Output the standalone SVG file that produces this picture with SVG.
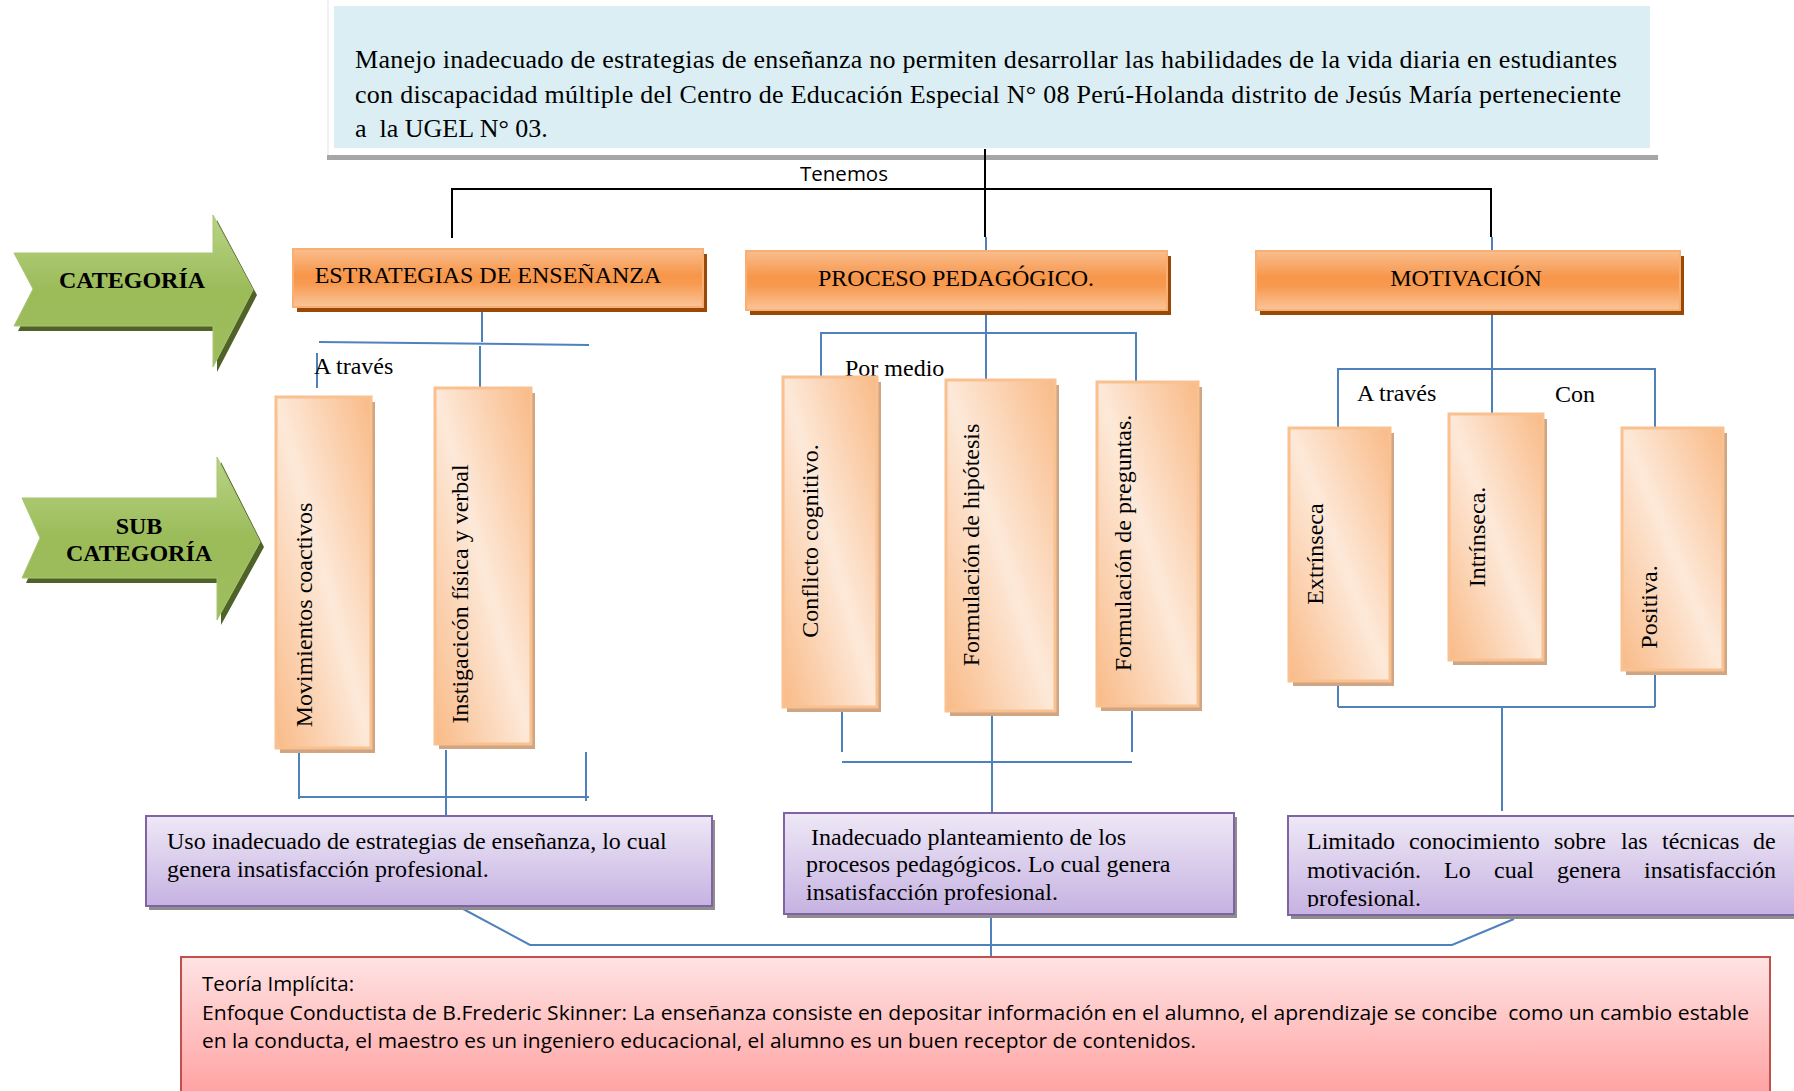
<svg xmlns="http://www.w3.org/2000/svg" width="1794" height="1091" viewBox="0 0 1794 1091">
<style>
.serif{font-family:"Liberation Serif","Times New Roman",serif;font-size:24px;fill:#000}
.big{font-size:26px}
.sans{font-family:"Open Sans","Liberation Sans",sans-serif;font-size:20.5px;fill:#000}
.bold{font-weight:bold}
.blue{stroke:#4F81BD;stroke-width:2;fill:none}
.black{stroke:#000;stroke-width:2;fill:none}
.cat{fill:url(#gCat);stroke:#F9AE72;stroke-width:2}
.catsh{fill:#984807}
.sub{fill:url(#gSub);stroke:#F9C090;stroke-width:3}
.subsh{fill:#CFA583}
.pur{fill:url(#gPur);stroke:#8064A2;stroke-width:2}
.pursh{fill:#8E8E8E}
.arr{fill:url(#gGreen);stroke:#A9C673;stroke-width:1}
.arrsh{fill:#4F6228}
</style>
<defs>
<linearGradient id="gCat" x1="0" y1="0" x2="0" y2="1">
<stop offset="0" stop-color="#F9BE8E"/>
<stop offset="0.45" stop-color="#F7964A"/>
<stop offset="0.6" stop-color="#F79A50"/>
<stop offset="1" stop-color="#FAC59A"/>
</linearGradient>
<linearGradient id="gSub" x1="1" y1="0" x2="0" y2="1">
<stop offset="0" stop-color="#F9BA87"/>
<stop offset="0.5" stop-color="#FDE9D9"/>
<stop offset="1" stop-color="#F9BA87"/>
</linearGradient>
<linearGradient id="gPur" x1="0" y1="0" x2="0" y2="1">
<stop offset="0" stop-color="#EEE8F6"/>
<stop offset="1" stop-color="#C6B2E2"/>
</linearGradient>
<linearGradient id="gRed" x1="0" y1="0" x2="0" y2="1">
<stop offset="0" stop-color="#FFE3E3"/>
<stop offset="1" stop-color="#FF9C9C"/>
</linearGradient>
<linearGradient id="gGreen" x1="0" y1="0" x2="0" y2="1">
<stop offset="0" stop-color="#B9D485"/>
<stop offset="0.5" stop-color="#9BBB59"/>
<stop offset="1" stop-color="#9FBE5F"/>
</linearGradient>
<clipPath id="clipP3"><rect x="1288" y="816" width="520" height="91"/></clipPath>
</defs>

<g id="problema">
<line x1="328" y1="0" x2="328" y2="155" stroke="#E3E3E3" stroke-width="1"/>
<rect x="327" y="155" width="1331" height="5" fill="#A6A6A6"/>
<rect x="334" y="6" width="1316" height="142" fill="#DAEEF3"/>
<text class="serif big" x="355" y="68" textLength="1262" lengthAdjust="spacing">Manejo inadecuado de estrategias de enseñanza no permiten desarrollar las habilidades de la vida diaria en estudiantes</text>
<text class="serif big" x="355" y="103" textLength="1266" lengthAdjust="spacing">con discapacidad múltiple del Centro de Educación Especial N° 08 Perú-Holanda distrito de Jesús María perteneciente</text>
<text class="serif big" x="355" y="137" xml:space="preserve">a  la UGEL N° 03.</text>
</g>

<g id="connectors">
<path class="black" d="M985,149 V237 M452,189 H1491 M452,188 V238 M1491,188 V237"/>
<path class="blue" d="M986,237 V251 M1492,237 V251"/>
<path class="blue" d="M482,307 V342 M319,342 L589,345 M480,346 V388 M317,353 V388"/>
<path class="blue" d="M299,752 V799 M299,797 H589 M446,750 V816 M586,752 V801"/>
<path class="blue" d="M986,311 V380 M821,333 H1136 M821,332 V382 M1136,332 V388"/>
<path class="blue" d="M842,705 V752 M1132,705 V752 M842,762 H1132 M992,712 V813"/>
<path class="blue" d="M1492,311 V414 M1338,369 H1655 M1338,368 V428 M1655,368 V427"/>
<path class="blue" d="M1338,682 V707 M1655,671 V707 M1338,707 H1655 M1502,707 V811"/>
<path class="blue" d="M452,903 L530,945 L1452,945 L1514,919 M991,914 V957"/>
</g>

<g id="tenemos"><text class="sans" x="800" y="181">Tenemos</text></g>
<g id="lbl-atraves1"><text class="serif" x="314" y="374">A través</text></g>
<g id="lbl-pormedio"><text class="serif" x="845" y="376">Por medio</text></g>
<g id="lbl-atraves2"><text class="serif" x="1357" y="401">A través</text></g>
<g id="lbl-con"><text class="serif" x="1555" y="402">Con</text></g>

<g id="arrow-categoria">
<polygon class="arrsh" points="18,258 217,258 217,220 257,295 217,372 217,331 18,331 37,294"/>
<polygon class="arr" points="14,253 213,253 213,215 253,290 213,367 213,326 14,326 33,289"/>
<text class="serif bold" x="132" y="288" text-anchor="middle">CATEGORÍA</text>
</g>

<g id="arrow-subcategoria">
<polygon class="arrsh" points="26,503 221,503 221,462 264,547 221,625 221,583 26,583 44,543"/>
<polygon class="arr" points="22,498 217,498 217,457 260,542 217,620 217,578 22,578 40,538"/>
<text class="serif bold" x="139" y="534" text-anchor="middle">SUB</text>
<text class="serif bold" x="139" y="561" text-anchor="middle">CATEGORÍA</text>
</g>

<g id="cat-estrategias">
<rect class="catsh" x="297" y="254" width="410" height="58"/>
<rect class="cat" x="293" y="249" width="410" height="58"/>
<text class="serif" x="488" y="283" text-anchor="middle">ESTRATEGIAS DE ENSEÑANZA</text>
</g>
<g id="cat-proceso">
<rect class="catsh" x="750" y="256" width="421" height="59"/>
<rect class="cat" x="746" y="251" width="421" height="59"/>
<text class="serif" x="956" y="286" text-anchor="middle">PROCESO PEDAGÓGICO.</text>
</g>
<g id="cat-motivacion">
<rect class="catsh" x="1260" y="256" width="424" height="59"/>
<rect class="cat" x="1256" y="251" width="424" height="59"/>
<text class="serif" x="1466" y="286" text-anchor="middle">MOTIVACIÓN</text>
</g>

<g id="sub-movimientos">
<rect class="subsh" x="280" y="402" width="95" height="351"/>
<rect class="sub" x="276" y="397" width="95" height="351"/>
<text class="serif" text-anchor="middle" transform="translate(312,615) rotate(-90)">Movimientos coactivos</text>
</g>
<g id="sub-instigacion">
<rect class="subsh" x="439" y="393" width="96" height="356"/>
<rect class="sub" x="435" y="388" width="96" height="356"/>
<text class="serif" text-anchor="middle" transform="translate(468,594) rotate(-90)">Instigacicón física y verbal</text>
</g>
<g id="sub-conflicto">
<rect class="subsh" x="787" y="382" width="94" height="330"/>
<rect class="sub" x="783" y="377" width="94" height="330"/>
<text class="serif" text-anchor="middle" transform="translate(818,541) rotate(-90)">Conflicto cognitivo.</text>
</g>
<g id="sub-hipotesis">
<rect class="subsh" x="950" y="385" width="109" height="331"/>
<rect class="sub" x="946" y="380" width="109" height="331"/>
<text class="serif" text-anchor="middle" transform="translate(979,545) rotate(-90)">Formulación de hipótesis</text>
</g>
<g id="sub-preguntas">
<rect class="subsh" x="1101" y="387" width="101" height="324"/>
<rect class="sub" x="1097" y="382" width="101" height="324"/>
<text class="serif" text-anchor="middle" transform="translate(1131,543) rotate(-90)">Formulación de preguntas.</text>
</g>
<g id="sub-extrinseca">
<rect class="subsh" x="1293" y="433" width="101" height="253"/>
<rect class="sub" x="1289" y="428" width="101" height="253"/>
<text class="serif" text-anchor="middle" transform="translate(1323,554) rotate(-90)">Extrínseca</text>
</g>
<g id="sub-intrinseca">
<rect class="subsh" x="1453" y="419" width="94" height="246"/>
<rect class="sub" x="1449" y="414" width="94" height="246"/>
<text class="serif" text-anchor="middle" transform="translate(1485,537) rotate(-90)">Intrínseca.</text>
</g>
<g id="sub-positiva">
<rect class="subsh" x="1626" y="433" width="101" height="242"/>
<rect class="sub" x="1622" y="428" width="101" height="242"/>
<text class="serif" text-anchor="middle" transform="translate(1657,607) rotate(-90)">Positiva.</text>
</g>

<g id="res-estrategias">
<rect class="pursh" x="149" y="820" width="566" height="90"/>
<rect class="pur" x="146" y="816" width="566" height="90"/>
<text class="serif" x="167" y="849">Uso inadecuado de estrategias de enseñanza, lo cual</text>
<text class="serif" x="167" y="877">genera insatisfacción profesional.</text>
</g>
<g id="res-proceso">
<rect class="pursh" x="787" y="817" width="450" height="101"/>
<rect class="pur" x="784" y="813" width="450" height="101"/>
<text class="serif" x="811" y="845">Inadecuado planteamiento de los</text>
<text class="serif" x="806" y="872">procesos pedagógicos. Lo cual genera</text>
<text class="serif" x="806" y="900">insatisfacción profesional.</text>
</g>
<g id="res-motivacion">
<rect class="pursh" x="1291" y="820" width="520" height="99"/>
<rect class="pur" x="1288" y="816" width="520" height="99"/>
<text class="serif" y="849"><tspan x="1307">Limitado</tspan><tspan x="1409">conocimiento</tspan><tspan x="1554">sobre</tspan><tspan x="1621">las</tspan><tspan x="1662">técnicas</tspan><tspan x="1753">de</tspan></text>
<text class="serif" y="878"><tspan x="1307">motivación.</tspan><tspan x="1444">Lo</tspan><tspan x="1494">cual</tspan><tspan x="1557">genera</tspan><tspan x="1644">insatisfacción</tspan></text>
<text class="serif" x="1307" y="906" clip-path="url(#clipP3)">profesional.</text>
</g>

<g id="teoria">
<rect x="181" y="957" width="1589" height="150" fill="url(#gRed)" stroke="#C0504D" stroke-width="2"/>
<text class="sans" x="202" y="991">Teoría Implícita:</text>
<text class="sans" x="202" y="1020" textLength="1547" lengthAdjust="spacingAndGlyphs" xml:space="preserve">Enfoque Conductista de B.Frederic Skinner: La enseñanza consiste en depositar información en el alumno, el aprendizaje se concibe  como un cambio estable</text>
<text class="sans" x="202" y="1048" textLength="994" lengthAdjust="spacingAndGlyphs">en la conducta, el maestro es un ingeniero educacional, el alumno es un buen receptor de contenidos.</text>
</g>
</svg>
